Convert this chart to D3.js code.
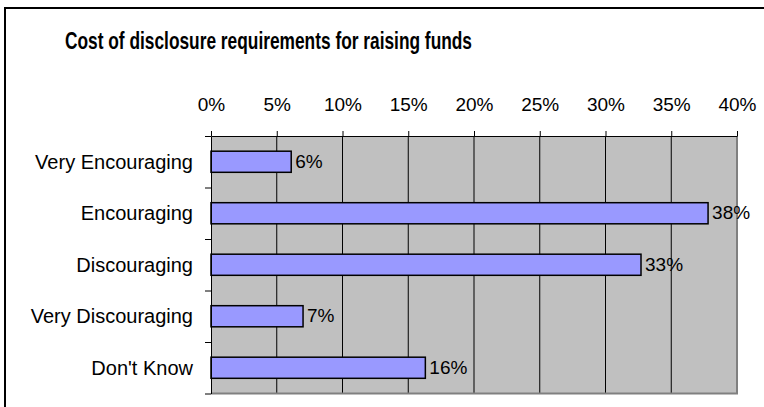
<!DOCTYPE html>
<html>
<head>
<meta charset="utf-8">
<script src="https://cdn.jsdelivr.net/npm/d3@7"></script>
<style>
    body { margin: 0; background: #fff; overflow: hidden; }
    svg { display: block; font-family: "Liberation Sans", Arial, sans-serif; }
</style>
</head>
<body>
<div id="chart"></div>
<script>
// 数据
const categories = ['Very Encouraging', 'Encouraging', 'Discouraging', 'Very Discouraging', "Don't Know"];
const values = [0.061, 0.378, 0.327, 0.070, 0.163];
const tickValues = [0, 0.05, 0.10, 0.15, 0.20, 0.25, 0.30, 0.35, 0.40];
const title = 'Cost of disclosure requirements for raising funds';

const width = 764;
const height = 407;
const plot = { left: 211, right: 737, top: 136, bottom: 393.5 };

const svg = d3.select('#chart')
    .append('svg')
    .attr('width', width)
    .attr('height', height);

// 外框（图片只显示左边和上边）
svg.append('path')
    .attr('d', `M5,${height}V8H${width}`)
    .attr('fill', 'none')
    .attr('stroke', '#000')
    .attr('stroke-width', 2);

// 标题（原图字体较窄，用 textLength 压缩）
svg.append('text')
    .attr('x', 65)
    .attr('y', 49)
    .attr('font-size', '24px')
    .attr('font-weight', 'bold')
    .attr('fill', '#000')
    .attr('textLength', 407)
    .attr('lengthAdjust', 'spacingAndGlyphs')
    .text(title);

// 比例尺
const x = d3.scaleLinear()
    .domain([0, 0.4])
    .range([plot.left, plot.right]);

const y = d3.scaleBand()
    .domain(categories)
    .range([plot.top, plot.bottom])
    .paddingInner(0.59)
    .paddingOuter(0.295);

const yEdge = d3.scaleLinear()
    .domain([0, categories.length])
    .range([plot.top, plot.bottom]);

// 绘图区背景
svg.append('rect')
    .attr('x', plot.left)
    .attr('y', plot.top)
    .attr('width', plot.right - plot.left)
    .attr('height', plot.bottom - plot.top)
    .attr('fill', '#c0c0c0');

// 网格线
svg.append('g')
    .selectAll('line')
    .data(tickValues.slice(1, -1))
    .join('line')
    .attr('x1', d => x(d))
    .attr('x2', d => x(d))
    .attr('y1', plot.top)
    .attr('y2', plot.bottom)
    .attr('stroke', '#000')
    .attr('stroke-width', 1);

// 右边和下边灰色边框
svg.append('path')
    .attr('d', `M${plot.right},${plot.top}V${plot.bottom}H${plot.left}`)
    .attr('fill', 'none')
    .attr('stroke', '#808080')
    .attr('stroke-width', 2);

// 条形
svg.append('g')
    .selectAll('rect')
    .data(values)
    .join('rect')
    .attr('x', x(0))
    .attr('y', (d, i) => y(categories[i]))
    .attr('width', d => x(d) - x(0))
    .attr('height', y.bandwidth())
    .attr('fill', '#9999ff')
    .attr('stroke', '#000')
    .attr('stroke-width', 1.5);

// 数据标签
svg.append('g')
    .selectAll('text')
    .data(values)
    .join('text')
    .attr('x', d => x(d) + 4)
    .attr('y', (d, i) => y(categories[i]) + y.bandwidth() / 2 + 6)
    .attr('font-size', '19px')
    .attr('fill', '#000')
    .text(d => d3.format('.0%')(d));

// X轴（顶部）
const xAxis = svg.append('g')
    .attr('transform', `translate(0,${plot.top})`)
    .call(d3.axisTop(x)
        .tickValues(tickValues)
        .tickFormat(d3.format('.0%'))
        .tickSize(5)
        .tickSizeOuter(0)
        .tickPadding(20));
xAxis.select('.domain').attr('stroke', '#000');
xAxis.selectAll('text')
    .attr('font-size', '19px')
    .attr('font-family', '"Liberation Sans", Arial, sans-serif')
    .attr('fill', '#000');

// Y轴
const yAxis = svg.append('g')
    .attr('transform', `translate(${plot.left},0)`)
    .call(d3.axisLeft(yEdge)
        .ticks(categories.length)
        .tickFormat('')
        .tickSize(6)
        .tickSizeOuter(0));
yAxis.select('.domain').attr('stroke', '#000');

// 类别标签
svg.append('g')
    .selectAll('text')
    .data(categories)
    .join('text')
    .attr('x', 193)
    .attr('y', d => y(d) + y.bandwidth() / 2 + 7)
    .attr('text-anchor', 'end')
    .attr('font-size', '20px')
    .attr('fill', '#000')
    .text(d => d);
</script>
</body>
</html>
